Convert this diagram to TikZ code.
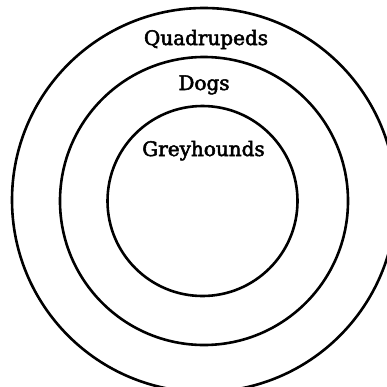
\documentclass[tikz,border=0pt]{standalone}
\usepackage{fontspec}
\setmainfont{DejaVu Serif}[BoldFont={DejaVu Serif},BoldFeatures={FakeBold=2.5}]
\begin{document}
\begin{tikzpicture}[x=1pt,y=-1pt,
  ring/.style={draw=black,line width=2.6pt,circle,inner sep=0pt,fill=none},
  lab/.style={anchor=base,inner sep=0pt,font=\fontsize{20}{24}\selectfont\bfseries}]
\useasboundingbox (0,0) rectangle (387,386);
\clip (0,0) rectangle (387,386);
\node[ring,minimum size=384pt] (quad) at (204,200) {};
\node[ring,minimum size=288pt] (dogs) at (204,201) {};
\node[ring,minimum size=190pt] (grey) at (202.5,201) {};
\node[lab] (tq) at (206,45) {Quadrupeds};
\node[lab] (td) at (204,90) {Dogs};
\node[lab] (tg) at (203.5,156) {Greyhounds};
\end{tikzpicture}
\end{document}
